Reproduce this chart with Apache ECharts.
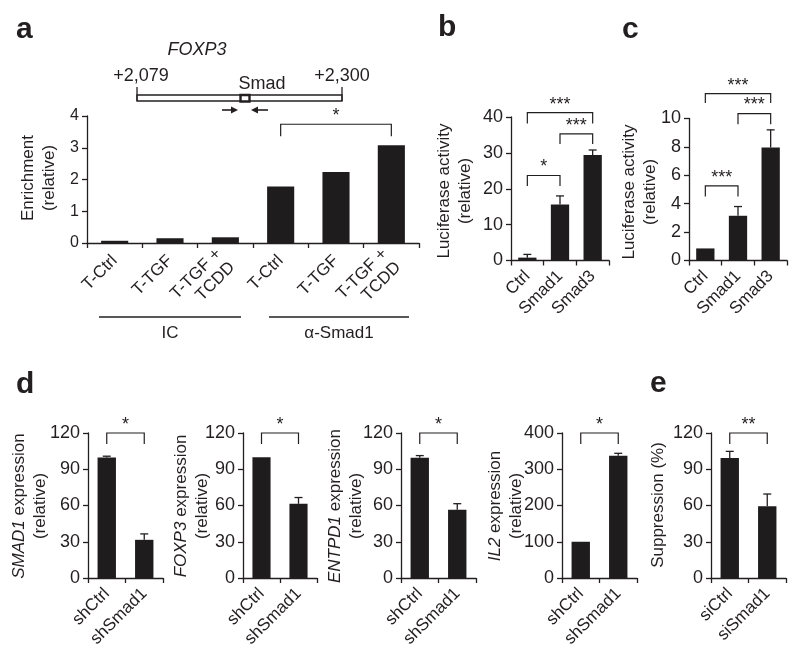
<!DOCTYPE html>
<html><head><meta charset="utf-8">
<script src="https://cdn.jsdelivr.net/npm/echarts@6/dist/echarts.min.js"></script>
<style>html,body{margin:0;padding:0;background:#fff}#c{width:800px;height:657px}</style>
</head><body><div id="c"></div>
<script>
const FONT = '"Liberation Sans", Arial, Helvetica, sans-serif';
const INK = '#231f20';
const BAR = '#1f1c1d';

// ---- Panel a: ChIP enrichment ----
const aCategories = ['T-Ctrl', 'T-TGF', 'T-TGF +\nTCDD', 'T-Ctrl', 'T-TGF', 'T-TGF +\nTCDD'];
const aValues = [0.07, 0.15, 0.18, 1.78, 2.24, 3.08];
const aErrors = [null, null, null, null, null, null];
const aAxis = [0, 4, 1]; // min, max, interval

// ---- Panel b: luciferase ----
const bCategories = ['Ctrl', 'Smad1', 'Smad3'];
const bValues = [0.8, 15.6, 29.4];
const bErrors = [1.7, 18.0, 30.8];
const bAxis = [0, 40, 10];

// ---- Panel c: luciferase ----
const cCategories = ['Ctrl', 'Smad1', 'Smad3'];
const cValues = [0.85, 3.15, 7.95];
const cErrors = [null, 3.8, 9.2];
const cAxis = [0, 10, 2];

// ---- Panel d ----
const dCategories = ['shCtrl', 'shSmad1'];
const dSmad1Values = [99.8, 31.6];
const dSmad1Errors = [100.8, 36.5];
const dFoxp3Values = [100, 61.4];
const dFoxp3Errors = [null, 66.6];
const dEntpd1Values = [99.6, 56.5];
const dEntpd1Errors = [101.3, 61.5];
const dIl2Values = [100, 337];
const dIl2Errors = [null, 344];
const dAxis = [0, 120, 30];
const dIl2Axis = [0, 400, 100];

// ---- Panel e ----
const eCategories = ['siCtrl', 'siSmad1'];
const eValues = [99.4, 59.4];
const eErrors = [104.8, 69.5];
const eAxis = [0, 120, 30];

// significance brackets: [panel, fromIndex, toIndex, lineValue, dropValue, label]
const brackets = [
  [0, 3, 5, 3.74, 3.36, '*'],
  [1, 0, 2, 41.2, 38.2, '***'],
  [1, 1, 2, 35.3, 32.5, '***'],
  [1, 0, 1, 23.7, 20.8, '*'],
  [2, 0, 2, 11.75, 11.1, '***'],
  [2, 1, 2, 10.35, 9.6, '***'],
  [2, 0, 1, 5.25, 4.5, '***'],
  [3, 0, 1, 120, 111, '*'],
  [4, 0, 1, 120, 111, '*'],
  [5, 0, 1, 120, 111, '*'],
  [6, 0, 1, 400, 370, '*'],
  [7, 0, 1, 120, 111, '**']
];

const panels = [
  {grid: {left: 87, top: 116, width: 332, height: 127}, cats: aCategories, vals: aValues, errs: aErrors, axis: aAxis, bw: '49%', fs: 16, lm: 15},
  {grid: {left: 511, top: 117, width: 98, height: 143.5}, cats: bCategories, vals: bValues, errs: bErrors, axis: bAxis, bw: '56%', fs: 18, lm: 13},
  {grid: {left: 689, top: 118.5, width: 98, height: 142}, cats: cCategories, vals: cValues, errs: cErrors, axis: cAxis, bw: '56%', fs: 18, lm: 13},
  {grid: {left: 88, top: 433, width: 75, height: 145}, cats: dCategories, vals: dSmad1Values, errs: dSmad1Errors, axis: dAxis, bw: '49%', fs: 18, lm: 13},
  {grid: {left: 243, top: 433, width: 74, height: 145}, cats: dCategories, vals: dFoxp3Values, errs: dFoxp3Errors, axis: dAxis, bw: '49%', fs: 18, lm: 13},
  {grid: {left: 401, top: 433, width: 75, height: 145}, cats: dCategories, vals: dEntpd1Values, errs: dEntpd1Errors, axis: dAxis, bw: '49%', fs: 18, lm: 13},
  {grid: {left: 562, top: 433, width: 75, height: 145}, cats: dCategories, vals: dIl2Values, errs: dIl2Errors, axis: dIl2Axis, bw: '49%', fs: 18, lm: 13},
  {grid: {left: 711, top: 433, width: 75, height: 145}, cats: eCategories, vals: eValues, errs: eErrors, axis: eAxis, bw: '49%', fs: 18, lm: 13}
];

const grids = [], xAxes = [], yAxes = [], series = [];
const axisLineStyle = {color: INK, width: 1.3};
panels.forEach((p, i) => {
  grids.push(Object.assign({containLabel: false}, p.grid));
  xAxes.push({
    type: 'category', gridIndex: i, data: p.cats,
    axisLine: {lineStyle: axisLineStyle},
    axisTick: {show: true, alignWithLabel: false, length: 5, lineStyle: axisLineStyle, interval: 0},
    axisLabel: {interval: 0, rotate: 45, margin: p.lm, fontSize: 17, fontFamily: FONT, color: INK, lineHeight: 19},
    splitLine: {show: false}
  });
  yAxes.push({
    type: 'value', gridIndex: i, min: p.axis[0], max: p.axis[1], interval: p.axis[2],
    axisLine: {show: true, lineStyle: axisLineStyle},
    axisTick: {show: true, length: 5, lineStyle: axisLineStyle},
    axisLabel: {margin: 8, fontSize: p.fs, fontFamily: FONT, color: INK},
    splitLine: {show: false}
  });
  series.push({
    type: 'bar', xAxisIndex: i, yAxisIndex: i, data: p.vals, barWidth: p.bw,
    itemStyle: {color: BAR}, silent: true, animation: false
  });
  const errData = [];
  p.errs.forEach((e, k) => { if (e != null) errData.push([k, p.vals[k], e]); });
  series.push({
    type: 'custom', xAxisIndex: i, yAxisIndex: i, data: errData, animation: false, silent: true,
    renderItem: (params, api) => {
      const a = api.coord([api.value(0), api.value(1)]);
      const b = api.coord([api.value(0), api.value(2)]);
      const st = {stroke: INK, lineWidth: 1.3};
      return {type: 'group', children: [
        {type: 'line', shape: {x1: a[0], y1: a[1], x2: b[0], y2: b[1]}, style: st},
        {type: 'line', shape: {x1: b[0] - 4, y1: b[1], x2: b[0] + 4, y2: b[1]}, style: st}
      ]};
    }
  });
});

const chart = echarts.init(document.getElementById('c'), null, {renderer: 'canvas'});
chart.setOption({
  animation: false, backgroundColor: '#fff',
  textStyle: {fontFamily: FONT},
  grid: grids, xAxis: xAxes, yAxis: yAxes, series: series
});

const T = (x, y, text, o) => Object.assign({type: 'text', x: x, y: y, silent: true,
  style: Object.assign({text: text, fill: INK, fontFamily: FONT, fontSize: 17, align: 'center', verticalAlign: 'middle'}, o || {})});
const yName = (x, y, text) => ({type: 'text', x: x, y: y, rotation: Math.PI / 2, silent: true,
  style: {text: text, fill: INK, fontFamily: FONT, fontSize: 17, align: 'center', verticalAlign: 'middle', lineHeight: 21,
    rich: {i: {fontStyle: 'italic', fontFamily: FONT, fontSize: 17, fill: INK}}}});
const L = (x1, y1, x2, y2, w) => ({type: 'line', silent: true, shape: {x1: x1, y1: y1, x2: x2, y2: y2}, style: {stroke: INK, lineWidth: w || 1.3}});

const gfx = [];
// panel letters
[['a', 16, 30], ['b', 438, 28], ['c', 622, 30], ['d', 16, 385], ['e', 650, 384]].forEach(l =>
  gfx.push(T(l[1], l[2], l[0], {fontSize: 30, fontWeight: 'bold', align: 'left', verticalAlign: 'middle'})));
// y axis names
gfx.push(yName(39, 178, 'Enrichment\n(relative)'));
gfx.push(yName(455, 191, 'Luciferase activity\n(relative)'));
gfx.push(yName(640, 192, 'Luciferase activity\n(relative)'));
gfx.push(yName(30, 506, '{i|SMAD1} expression\n(relative)'));
gfx.push(yName(191.5, 506, '{i|FOXP3} expression\n(relative)'));
gfx.push(yName(346, 506, '{i|ENTPD1} expression\n(relative)'));
gfx.push(yName(506, 506, '{i|IL2} expression\n(relative)'));
gfx.push(yName(658, 505, 'Suppression (%)'));

// gene diagram (panel a)
gfx.push(T(197, 50, 'FOXP3', {fontStyle: 'italic', fontSize: 18}));
gfx.push(T(141, 76, '+2,079', {fontSize: 18}));
gfx.push(T(342, 76, '+2,300', {fontSize: 18}));
gfx.push(T(262, 84, 'Smad', {fontSize: 18}));
gfx.push({type: 'rect', silent: true, shape: {x: 137, y: 95, width: 205, height: 6}, style: {stroke: INK, lineWidth: 1.3, fill: '#fff'}});
gfx.push(L(137, 87, 137, 101));
gfx.push(L(342, 87, 342, 101));
gfx.push({type: 'rect', silent: true, shape: {x: 240.5, y: 95, width: 9, height: 6.5}, style: {stroke: INK, lineWidth: 2.4, fill: '#fff'}});
gfx.push(L(222, 110, 233, 110, 1.6));
gfx.push({type: 'polygon', silent: true, shape: {points: [[238, 110], [231, 106.5], [231, 113.5]]}, style: {fill: INK}});
gfx.push(L(257, 110, 268, 110, 1.6));
gfx.push({type: 'polygon', silent: true, shape: {points: [[251, 110], [258, 106.5], [258, 113.5]]}, style: {fill: INK}});

// group lines under panel a (from the category scale)
const c0 = chart.convertToPixel({gridIndex: 0}, [0, 0]);
const c1 = chart.convertToPixel({gridIndex: 0}, [1, 0]);
const c5 = chart.convertToPixel({gridIndex: 0}, [5, 0]);
const band = c1[0] - c0[0];
const gl = c0[0] - band / 2, gm = c0[0] + 2.5 * band, gr = c5[0] + band / 2;
gfx.push(L(gl + 12, 317, gm - 12, 317));
gfx.push(L(gm + 16, 317, gr - 10, 317));
gfx.push(T((gl + gm) / 2, 333, 'IC'));
gfx.push(T((gm + gr) / 2 + 3, 333, 'α-Smad1'));

// brackets
brackets.forEach(b => {
  const p1 = chart.convertToPixel({gridIndex: b[0]}, [b[1], b[3]]);
  const p2 = chart.convertToPixel({gridIndex: b[0]}, [b[2], b[3]]);
  const d = chart.convertToPixel({gridIndex: b[0]}, [b[1], b[4]]);
  gfx.push({type: 'polyline', silent: true, shape: {points: [[p1[0], d[1]], [p1[0], p1[1]], [p2[0], p2[1]], [p2[0], d[1]]]},
    style: {stroke: INK, lineWidth: 1.2, fill: null}});
  gfx.push(T((p1[0] + p2[0]) / 2, p1[1] - 8, b[5], {fontSize: 18}));
});

chart.setOption({graphic: {elements: gfx}});
</script>
</body></html>
